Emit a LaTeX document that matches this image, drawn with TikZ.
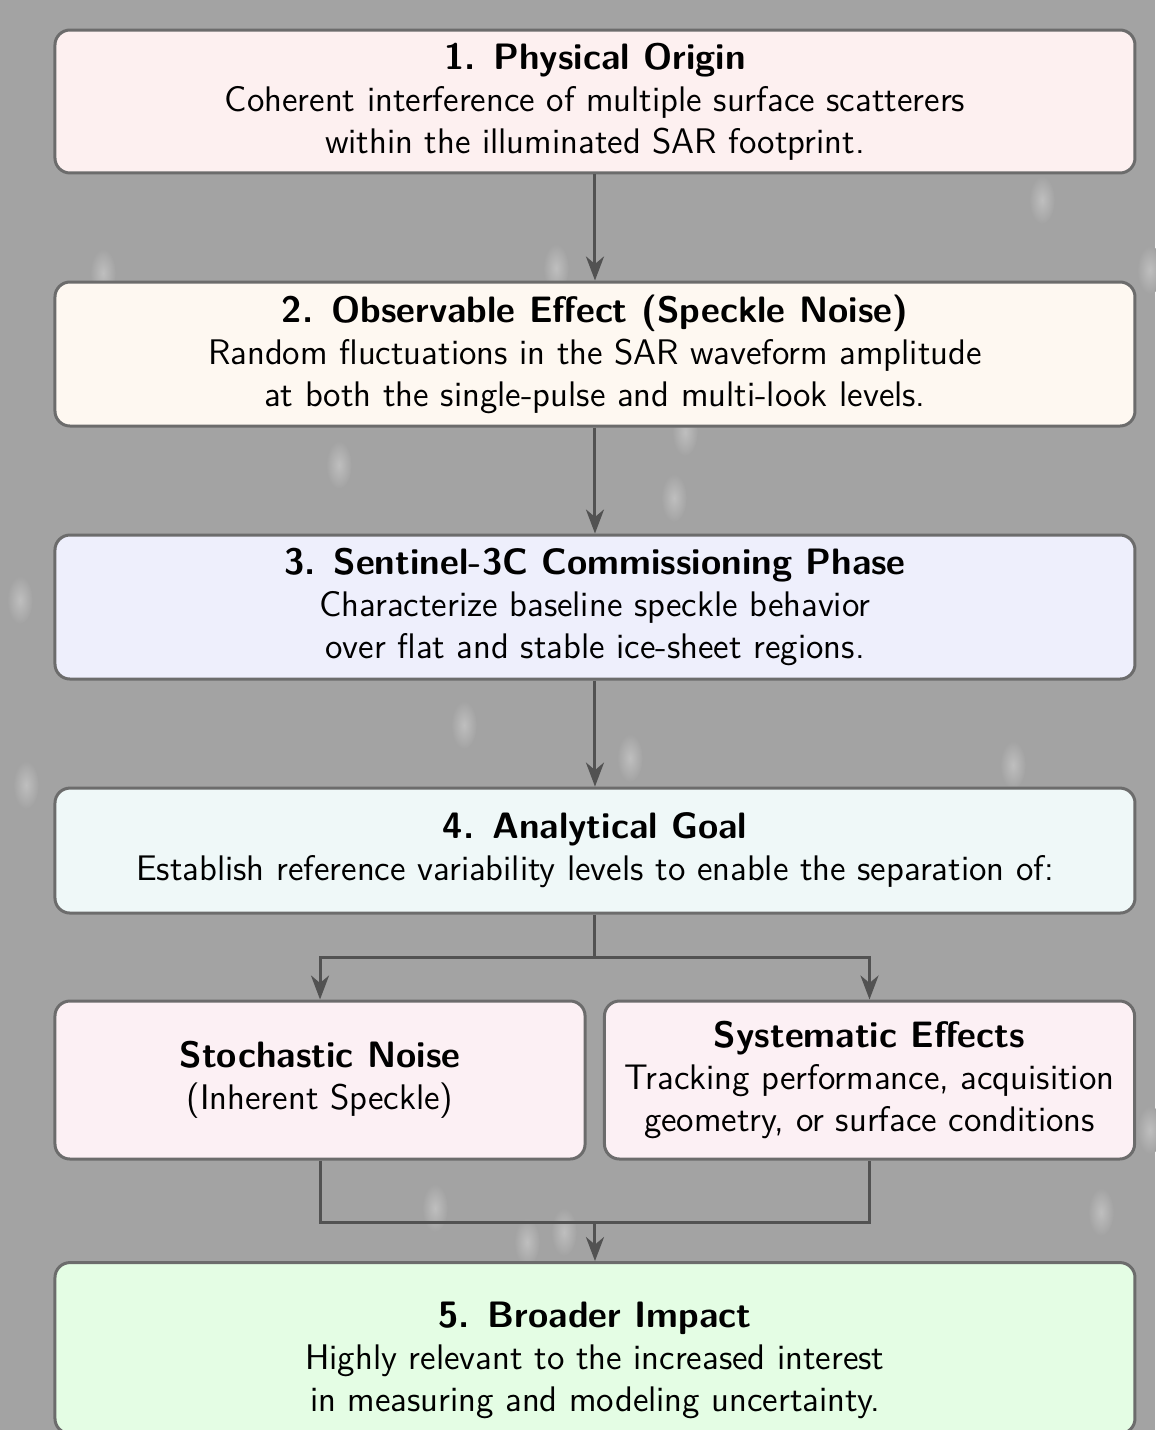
\documentclass[tikz,border=0pt]{standalone}
\usepackage{fontspec}
\usepackage{tikz}
\usetikzlibrary{arrows,arrows.meta,shapes,positioning}
\renewcommand{\familydefault}{\sfdefault}
\definecolor{bggray}{RGB}{163,163,163}
\definecolor{boxline}{RGB}{108,108,108}
\definecolor{arrowgray}{RGB}{82,82,82}
\definecolor{originpink}{RGB}{253,240,240}
\definecolor{effectcream}{RGB}{254,248,241}
\definecolor{phaselavender}{RGB}{238,239,252}
\definecolor{goalmint}{RGB}{239,248,248}
\definecolor{splitpink}{RGB}{252,240,244}
\definecolor{impactgreen}{RGB}{228,253,228}
\tikzstyle{stage} = [rectangle, rounded corners=5pt, minimum width=12.652cm, text centered, align=center, draw=boxline, line width=1pt, inner sep=0pt, font=\fontsize{11.85}{12}\selectfont]
\tikzstyle{half} = [stage, minimum width=6.21cm, minimum height=1.851cm, fill=splitpink]
\tikzstyle{arrow} = [line width=1pt, -{Stealth[length=8pt,width=6pt,inset=2.5pt]}, color=arrowgray]
\tikzstyle{link} = [line width=1pt, color=arrowgray]
\tikzstyle{speck} = [inner color=white!30!bggray, outer color=bggray]
\newcommand{\stagetitle}[1]{{\fontsize{12.25}{12}\selectfont\bfseries #1}}

\begin{document}
\begin{tikzpicture}
\useasboundingbox (0,0) rectangle (13.531,-16.752);
\fill[bggray] (0,0) rectangle (13.531,-16.752);

% faint speckle on the background
\foreach \sx/\sy in {12.207/-2.343, 1.207/-3.198, 6.514/-3.140, 13.472/-3.163, 8.025/-5.061, 3.971/-5.447, 7.896/-5.834, 5.436/-8.493, 7.380/-8.880, 11.867/-8.962, 0.305/-9.196, 0.234/-7.029, 5.096/-14.152, 6.174/-14.550, 6.607/-14.433, 12.898/-14.199, 13.472/-13.238}
  \shade[speck] (\sx,\sy) ellipse (0.15 and 0.28);

% Stage 1
\node[stage, minimum height=1.675cm, fill=originpink] (origin) at (6.970,-1.189) {
\stagetitle{1. Physical Origin}\\[2pt]
Coherent interference of multiple surface scatterers\\[2pt]
within the illuminated SAR footprint.
};

% Stage 2
\node[stage, minimum height=1.687cm, fill=effectcream] (effect) at (6.970,-4.147) {
\stagetitle{2. Observable Effect (Speckle Noise)}\\[2pt]
Random fluctuations in the SAR waveform amplitude\\[2pt]
at both the single-pulse and multi-look levels.
};

% Stage 3
\node[stage, minimum height=1.687cm, fill=phaselavender] (phase) at (6.970,-7.111) {
\stagetitle{3. Sentinel-3C Commissioning Phase}\\[2pt]
Characterize baseline speckle behavior\\[2pt]
over flat and stable ice-sheet regions.
};

% Stage 4
\node[stage, minimum height=1.464cm, fill=goalmint] (goal) at (6.970,-9.964) {
\stagetitle{4. Analytical Goal}\\[2pt]
Establish reference variability levels to enable the separation of:
};

% Split
\node[half] (stoch) at (3.749,-12.652) {
\stagetitle{Stochastic Noise}\\[2pt]
(Inherent Speckle)
};
\node[half] (syst) at (10.186,-12.652) {
\stagetitle{Systematic Effects}\\[2pt]
Tracking performance, acquisition\\[2pt]
geometry, or surface conditions
};

% Stage 5
\node[stage, minimum height=2.003cm, fill=impactgreen, anchor=north] (impact) at (6.970,-14.773) {
\rule{0pt}{17pt}\stagetitle{5. Broader Impact}\\[2pt]
Highly relevant to the increased interest\\[2pt]
in measuring and modeling uncertainty.
};

% Arrows
\draw[arrow] (origin) -- (effect);
\draw[arrow] (effect) -- (phase);
\draw[arrow] (phase) -- (goal);
\coordinate (fork) at (6.970,-11.211);
\coordinate (merge) at (6.970,-14.316);
\draw[link] (goal) -- (fork);
\draw[arrow] (fork) -| (stoch);
\draw[arrow] (fork) -| (syst);
\draw[link] (stoch) |- (merge) -| (syst);
\draw[arrow] (merge) -- (impact);
\end{tikzpicture}
\end{document}
